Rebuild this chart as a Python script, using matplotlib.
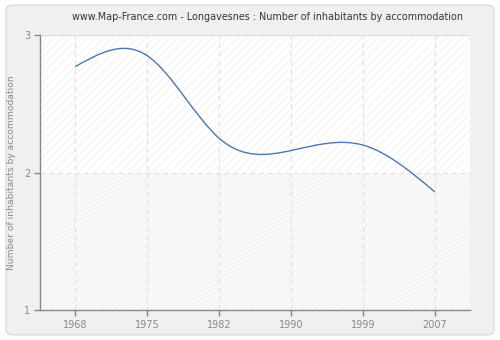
import numpy as np
import matplotlib.pyplot as plt
from matplotlib.patches import FancyBboxPatch, Rectangle, PathPatch
from matplotlib.path import Path

years = ["1968", "1975", "1982", "1990", "1999", "2007"]
ratio = [2.77, 2.85, 2.25, 2.16, 2.20, 1.86]
yticks = [1, 2, 3]

title = "www.Map-France.com - Longavesnes : Number of inhabitants by accommodation"
ylabel = "Number of inhabitants by accommodation"


def spline_path(xs, ys):
    # natural cubic spline through the points, written as bezier segments
    xs = np.asarray(xs, float)
    ys = np.asarray(ys, float)
    n = len(xs)
    h = np.diff(xs)
    A = np.zeros((n, n))
    r = np.zeros(n)
    A[0, 0] = A[-1, -1] = 1
    for i in range(1, n - 1):
        A[i, i - 1] = h[i - 1]
        A[i, i] = 2 * (h[i - 1] + h[i])
        A[i, i + 1] = h[i]
        r[i] = 6 * ((ys[i + 1] - ys[i]) / h[i] - (ys[i] - ys[i - 1]) / h[i - 1])
    M = np.linalg.solve(A, r)
    verts = [(xs[0], ys[0])]
    codes = [Path.MOVETO]
    for i in range(n - 1):
        slope = (ys[i + 1] - ys[i]) / h[i]
        d0 = slope - h[i] * (2 * M[i] + M[i + 1]) / 6
        d1 = slope + h[i] * (M[i] + 2 * M[i + 1]) / 6
        verts += [(xs[i] + h[i] / 3, ys[i] + d0 * h[i] / 3),
                  (xs[i + 1] - h[i] / 3, ys[i + 1] - d1 * h[i] / 3),
                  (xs[i + 1], ys[i + 1])]
        codes += [Path.CURVE4] * 3
    return Path(verts, codes)


plt.rcParams["hatch.linewidth"] = 0.5

fig = plt.figure(figsize=(5, 3.4), dpi=100)
fig.patch.set_facecolor("white")
fig.patches.append(FancyBboxPatch((0.012, 0.015), 0.976, 0.97,
                                  boxstyle="round,pad=0,rounding_size=0.015",
                                  transform=fig.transFigure, facecolor="#f0f0f0",
                                  edgecolor="#dcdcdc", linewidth=1, zorder=-5))

ax = fig.add_axes([0.08, 0.088, 0.86, 0.809])
ax.set_zorder(2)
ax.set_facecolor("none")
x = np.arange(len(years))
ax.set_xlim(-0.49, 5.49)
ax.set_ylim(1, 3)

# light hatched plot background, slightly greyer below 2
ax.add_patch(Rectangle((-0.49, 2), 5.98, 1, facecolor="white", edgecolor="#eeeeee",
                       hatch="////", linewidth=0, zorder=0))
ax.add_patch(Rectangle((-0.49, 1), 5.98, 1, facecolor="#f8f8f8", edgecolor="#f0f0f0",
                       hatch="////", linewidth=0, zorder=0))

for xi in x:
    ax.axvline(xi, color="#e2e2e2", linestyle=(0, (4, 3)), linewidth=0.9, zorder=1)
ax.axhline(2, color="#e2e2e2", linestyle=(0, (4, 3)), linewidth=0.9, zorder=1)
ax.axhline(3, color="#dddddd", linewidth=1, zorder=1)

ax.add_patch(PathPatch(spline_path(x, ratio), facecolor="none",
                       edgecolor="#4a78b0", linewidth=1, zorder=3))

for side in ["top", "right"]:
    ax.spines[side].set_visible(False)
for side in ["left", "bottom"]:
    ax.spines[side].set_color("#888888")
    ax.spines[side].set_linewidth(1)

ax.set_xticks(x)
ax.set_xticklabels(years)
ax.set_yticks(yticks)
ax.tick_params(colors="#888888", labelsize=7, length=4, width=1, pad=3)
ax.set_ylabel(ylabel, color="#888888", fontsize=6.6, labelpad=6)
fig.text(0.535, 0.95, title, ha="center", va="center", fontsize=6.9, color="#333333")

fig.savefig("out.png", dpi=100, facecolor=fig.get_facecolor())
